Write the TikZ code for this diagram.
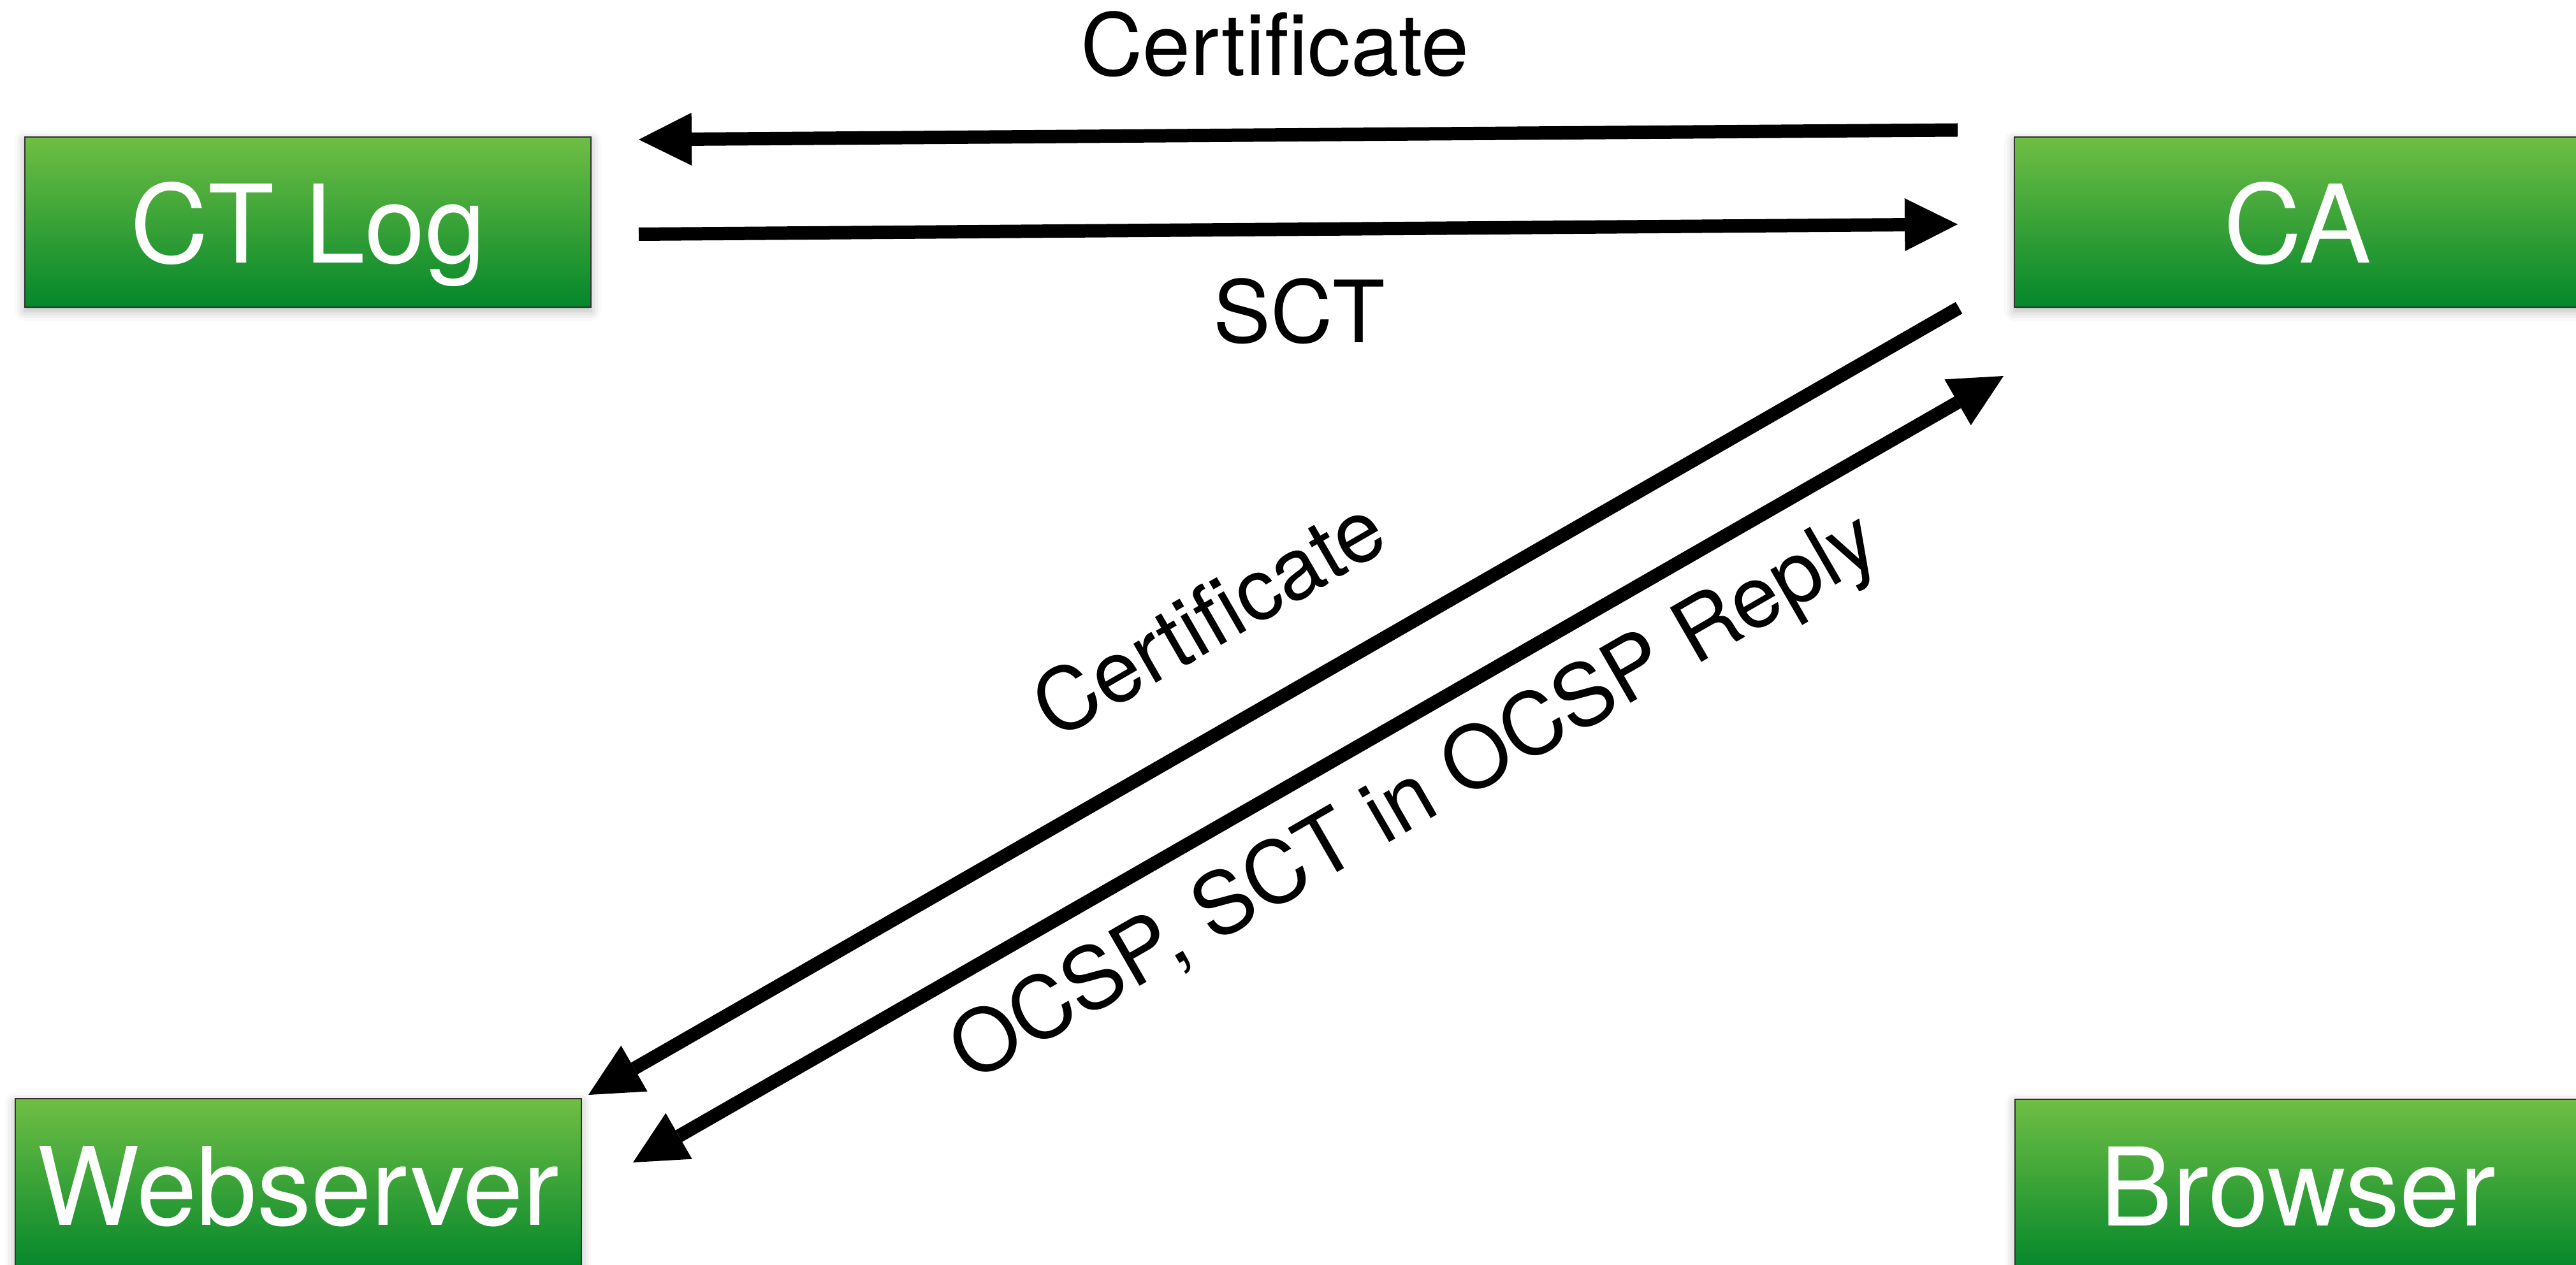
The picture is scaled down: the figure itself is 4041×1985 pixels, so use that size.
\documentclass[tikz,border=0pt]{standalone}
\usepackage{fontspec}
\setmainfont{TeX Gyre Heros}
\usetikzlibrary{arrows.meta,shadows.blur}

\definecolor{boxtop}{RGB}{111,190,68}
\definecolor{boxbot}{RGB}{4,135,43}

\tikzset{
  party/.style={rectangle, inner sep=0pt,
    minimum width=88.8mm, minimum height=26.7mm,
    top color=boxtop, bottom color=boxbot,
    draw=black!80, line width=0.25mm,
    text=white, font=\fontsize{48.4pt}{58pt}\selectfont,
    text height=12.9mm, text depth=0pt,
    blur shadow={shadow xshift=0mm, shadow yshift=-0.6mm,
                 shadow blur radius=1.6mm, shadow opacity=30}},
  msgtip/.tip={Triangle[length=8.3mm, width=8.3mm, line width=0pt]},
  msg/.style={line width=2.1mm, -msgtip},
  msgboth/.style={line width=2.1mm, msgtip-msgtip},
  lbl/.style={inner sep=0pt, font=\fontsize{38.4pt}{46pt}\selectfont}
}

\begin{document}
\begin{tikzpicture}[x=0.1mm, y=-0.1mm]
  \useasboundingbox (0,0) rectangle (4041,1985);
  \clip (0,0) rectangle (4041,1985);

  % parties
  \node[party] (ctlog)   at (483,348.5)   {CT Log};
  \node[party] (ca)      at (3604,348.5)  {CA};
  \node[party] (web)     at (468,1857.5)  {Webserver};
  \node[party] (browser) at (3605,1858.5) {Browser};

  % message end points
  \coordinate (certA) at (3071,204);
  \coordinate (certB) at (1002,219);
  \coordinate (sctA)  at (1002,367.5);
  \coordinate (sctB)  at (3071,352);
  \coordinate (diagA) at (3073,483);
  \coordinate (diagB) at (923,1718);
  \coordinate (ocspA) at (993,1824);
  \coordinate (ocspB) at (3143,590);

  % messages
  \draw[msg] (certA) -- (certB);
  \draw[msg] (sctA) -- (sctB);
  \draw[msg] (diagA) -- (diagB);
  \draw[msgboth] (ocspA) -- (ocspB);

  % message labels
  \node[lbl, anchor=base] (lcert) at (2000,119) {Certificate};
  \node[lbl, anchor=base] (lsct)  at (2038,538) {SCT};
  \node[lbl, rotate=30] (lcertdiag) at (1895,968) {Certificate};
  \node[lbl, rotate=30] (locsp) at (2222,1256) {OCSP, SCT in OCSP Reply};
\end{tikzpicture}
\end{document}
